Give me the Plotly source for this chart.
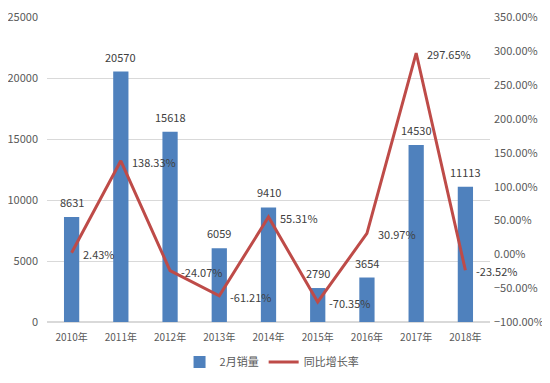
import plotly.graph_objects as go

years = ["2010年", "2011年", "2012年", "2013年", "2014年", "2015年", "2016年", "2017年", "2018年"]
sales = [8631, 20570, 15618, 6059, 9410, 2790, 3654, 14530, 11113]
growth = [0.0243, 1.3833, -0.2407, -0.6121, 0.5531, -0.7035, 0.3097, 2.9765, -0.2352]

FONT = "Noto Sans CJK SC, Microsoft YaHei, sans-serif"
TXT = "#404040"
AX = "#595959"

fig = go.Figure()
fig.add_trace(go.Bar(
    x=years, y=sales, name="2月销量",
    marker=dict(color="#4F81BD", line=dict(width=0)),
    width=0.31,
))
fig.add_trace(go.Scatter(
    x=years, y=growth, name="同比增长率", yaxis="y2",
    mode="lines",
    line=dict(color="#BE4B48", width=3),
    cliponaxis=False,
))

annotations = [
    dict(x=yr, y=v, xref="x", yref="y", text=str(v), showarrow=False,
         xanchor="center", yanchor="bottom", yshift=5,
         font=dict(family=FONT, size=11, color=TXT))
    for yr, v in zip(years, sales)
] + [
    dict(x=yr, y=g, xref="x", yref="y2", text=f"{g*100:.2f}%", showarrow=False,
         xanchor="left", yanchor="middle", xshift=9, yshift=-1,
         font=dict(family=FONT, size=11, color=TXT))
    for yr, g in zip(years, growth)
]

# page body has an 8px default margin, so the figure is sized/offset to compensate
fig.update_layout(
    width=542, height=375,
    margin=dict(l=39, r=60, t=9, b=61, autoexpand=False),
    paper_bgcolor="white", plot_bgcolor="white",
    font=dict(family=FONT, size=11, color=AX),
    showlegend=True,
    legend=dict(orientation="h", x=0.508, xanchor="center", y=0.056, yanchor="middle",
                yref="container",
                font=dict(family=FONT, size=11, color=AX), traceorder="normal"),
    bargap=0.69,
    annotations=annotations,
    xaxis=dict(range=[-0.5, 8.5], autorange=False, showgrid=False, showline=False, ticks="",
               tickfont=dict(size=10, color=AX), ticklabelstandoff=8, automargin=False),
    yaxis=dict(range=[0, 25050], tickvals=[0, 5000, 10000, 15000, 20000, 25000], tickformat="d",
               showgrid=True, gridcolor="#D9D9D9",
               gridwidth=1, zeroline=True, zerolinecolor="#D9D9D9", showline=False,
               tickfont=dict(size=11, color=AX), ticks="", ticklabelstandoff=8,
               automargin=False, ticklabeloverflow="allow"),
    yaxis2=dict(range=[-1, 3.5 + 4.5 * 50 / 25000], dtick=0.5, tick0=0, tickformat=".2%",
                overlaying="y", side="right",
                showgrid=False, zeroline=False, showline=False,
                tickfont=dict(size=11, color=AX), ticks="", ticklabelstandoff=3,
                automargin=False, ticklabeloverflow="allow"),
)

fig.write_html("out.html")
